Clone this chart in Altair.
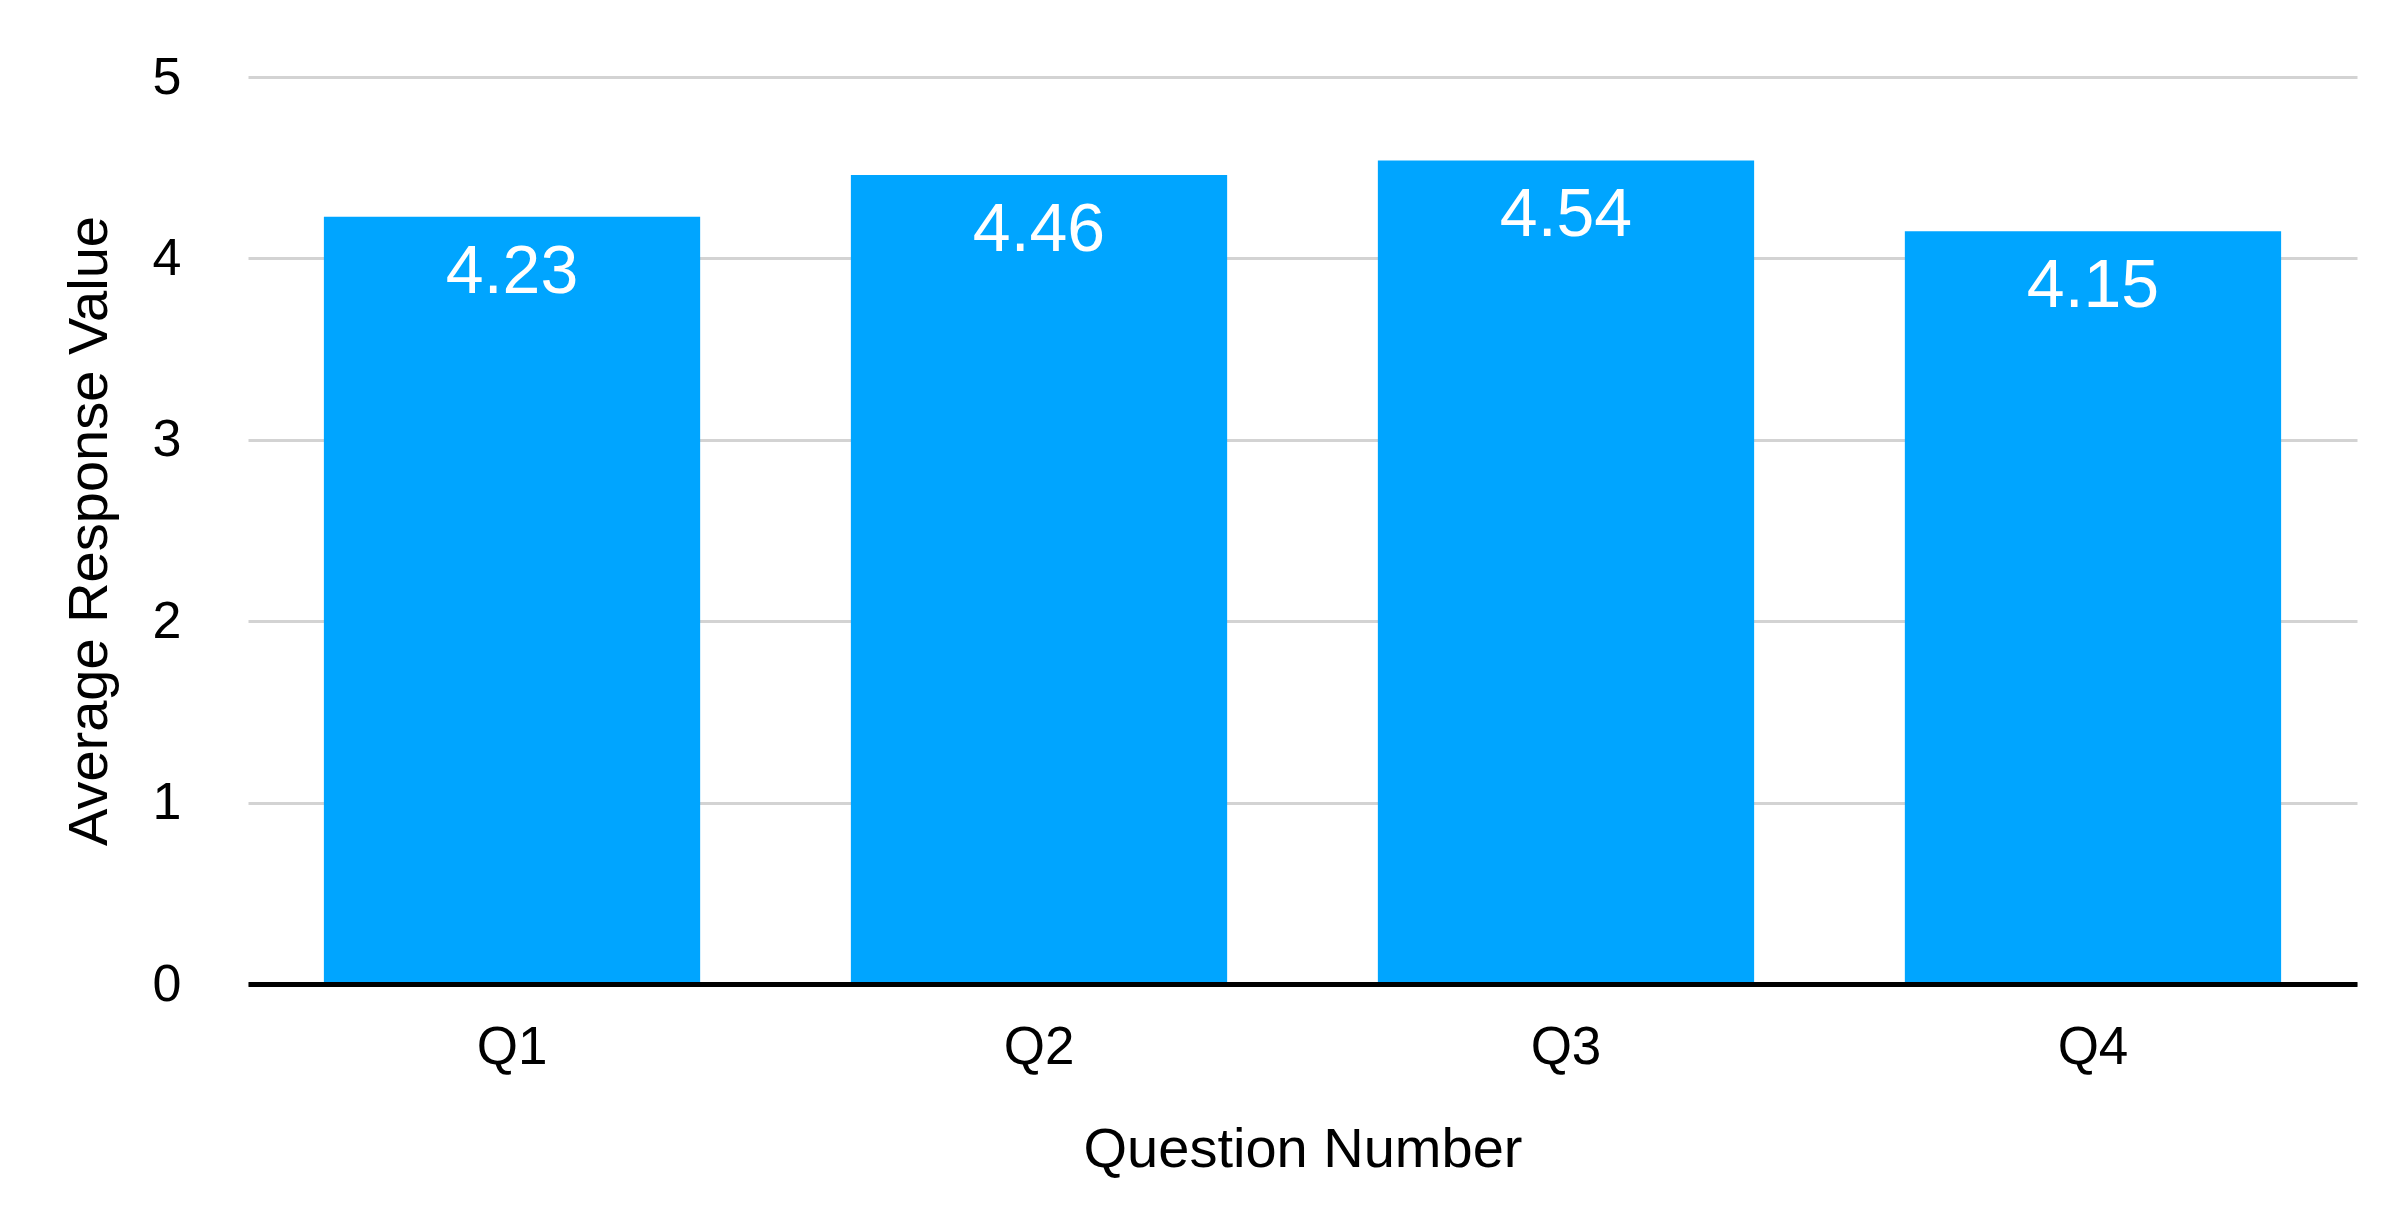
import altair as alt
import pandas as pd

questions = ["Q1", "Q2", "Q3", "Q4"]
averages = [4.23, 4.46, 4.54, 4.15]
y_ticks = [0, 1, 2, 3, 4, 5]

df = pd.DataFrame({"Question": questions, "Average": averages})

FONT = "Liberation Sans"
BAR = "#00A5FF"

base = alt.Chart(df)

x_enc = alt.X(
    "Question:N",
    sort=questions,
    scale=alt.Scale(paddingInner=0.286, paddingOuter=0.144),
    axis=alt.Axis(
        title="Question Number",
        titleFont=FONT, titleFontSize=56, titleFontWeight="normal", titleColor="#000000",
        titlePadding=48,
        labelFont=FONT, labelFontSize=53, labelColor="#000000", labelAngle=0,
        labelPadding=37,
        ticks=False, tickSize=0,
        domain=True, domainColor="#000000", domainWidth=5,
        grid=False, zindex=1,
    ),
)

y_enc = alt.Y(
    "Average:Q",
    scale=alt.Scale(domain=[0, 5], nice=False),
    axis=alt.Axis(
        title="Average Response Value",
        titleFont=FONT, titleFontSize=56, titleFontWeight="normal", titleColor="#000000",
        titlePadding=34,
        values=y_ticks,
        format="d",
        labelFont=FONT, labelFontSize=52, labelColor="#000000",
        labelPadding=67,
        ticks=False, tickSize=0,
        domain=False,
        grid=True, gridColor="#D3D3D3", gridWidth=3,
        zindex=0,
    ),
)

bars = base.mark_bar(color=BAR).encode(x=x_enc, y=y_enc)

labels = base.mark_text(
    color="white", font=FONT, fontSize=68, baseline="alphabetic", align="center", dy=76
).encode(
    x=alt.X("Question:N", sort=questions),
    y=alt.Y("Average:Q"),
    text=alt.Text("Average:Q", format=".2f"),
)

chart = (
    alt.layer(bars, labels)
    .properties(
        width=2109,
        height=907,
        padding={"left": 240, "top": 69, "right": 35, "bottom": 214},
        autosize=alt.AutoSizeParams(type="none"),
        background="white",
    )
    .configure_view(stroke=None)
)

chart.save("out.html", embed_options={"renderer": "svg", "actions": False})
